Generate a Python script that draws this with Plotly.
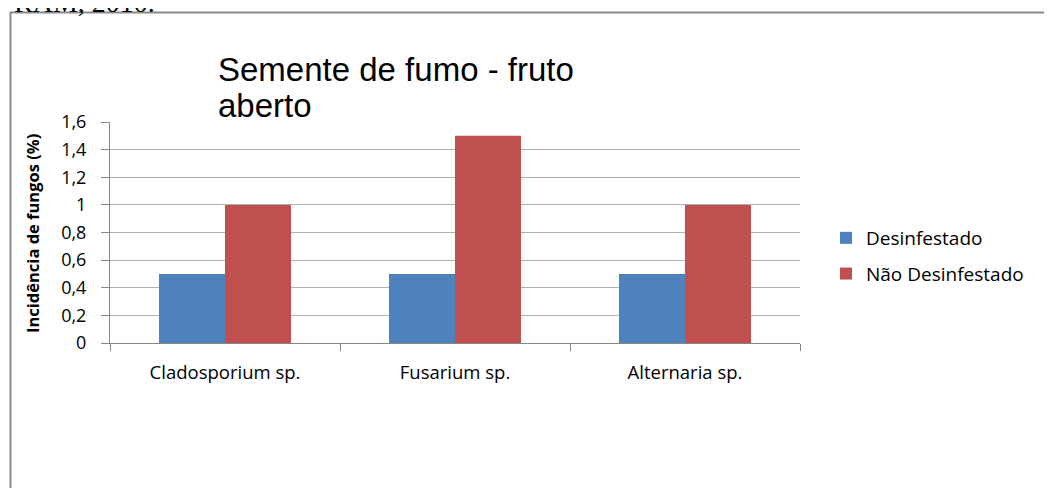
"""Grouped bar chart: fungus incidence on tobacco seed (open fruit)."""

import plotly.graph_objects as go

categories = ["Cladosporium sp.", "Fusarium sp.", "Alternaria sp."]
desinfestado = [0.5, 0.5, 0.5]
nao_desinfestado = [1.0, 1.5, 1.0]
y_ticks = [0, 0.2, 0.4, 0.6, 0.8, 1.0, 1.2, 1.4, 1.6]

_BLUE = "#4F81BD"
_RED = "#C0504D"
_AXIS = "#868686"
_GRID = "#b0b0b0"
_LABEL_FONT = "Open Sans, Lato, sans-serif"
_TITLE_FONT = {"family": "Liberation Sans, Arial, sans-serif", "size": 33, "color": "#000"}

# the page body adds an 8px margin, so the figure is drawn 8px in
OFF = 8
W, H = 1052 - OFF, 488 - OFF
L, R, T, B = 110, 800, 122, 343  # plot area in screen pixels


def px(x):
    return (x - L) / (R - L)


def py(y):
    return (B - y) / (B - T)


fig = go.Figure()
fig.add_trace(go.Bar(
    x=categories, y=desinfestado, name="Desinfestado",
    marker={"color": _BLUE, "line": {"width": 0}}, legendgroup="a",
))
fig.add_trace(go.Bar(
    x=categories, y=nao_desinfestado, name="Não Desinfestado",
    marker={"color": _RED, "line": {"width": 0}}, legendgroup="b",
))

fig.update_layout(
    width=W, height=H,
    paper_bgcolor="white", plot_bgcolor="white",
    margin={"l": L - OFF, "r": W - (R - OFF), "t": T - OFF, "b": H - (B - OFF), "pad": 0},
    separators=",.",
    barmode="group", bargap=0.426, bargroupgap=0,
    font={"family": _LABEL_FONT, "color": "#000000", "size": 18},
    showlegend=True,
    legend={
        "x": px(826), "y": py(219), "xanchor": "left", "yanchor": "top",
        "font": {"size": 19, "family": _LABEL_FONT},
        "traceorder": "grouped", "tracegroupgap": 8,
        "bgcolor": "rgba(0,0,0,0)",
    },
    xaxis={
        "showline": True, "linecolor": _AXIS, "linewidth": 1,
        "ticks": "outside", "tickson": "boundaries", "ticklen": 7,
        "tickcolor": _AXIS, "showgrid": False,
        "ticklabelstandoff": 13,
        "tickfont": {"size": 18.5},
    },
    yaxis={
        "range": [0, 1.6], "tickvals": y_ticks,
        "showline": True, "linecolor": _AXIS, "linewidth": 1,
        "ticks": "outside", "ticklen": 8, "tickcolor": _AXIS,
        "showgrid": True, "gridcolor": _GRID, "gridwidth": 1,
        "zeroline": False, "ticklabelstandoff": 11,
        "tickfont": {"size": 18},
    },
)

# chart title, one annotation per line to keep the tight line spacing
for line, top in (("Semente de fumo - fruto", 49), ("aberto", 85)):
    fig.add_annotation(
        text=line, xref="paper", yref="paper", x=px(216), y=py(top),
        xanchor="left", yanchor="top", align="left", showarrow=False,
        font=_TITLE_FONT,
    )

# y-axis title
fig.add_annotation(
    text="<b>Incidência de fungos (%)</b>",
    xref="paper", yref="paper", x=px(32), y=py(234),
    xanchor="center", yanchor="middle", textangle=-90, showarrow=False,
    font={"family": _LABEL_FONT, "size": 16.5, "color": "#000"},
)

# cut-off text from the surrounding document
fig.add_annotation(
    text="RAM, 2010.",
    xref="paper", yref="paper", x=px(157), y=py(20),
    xanchor="right", yanchor="bottom", showarrow=False,
    font={"family": "Liberation Serif, Times New Roman, serif", "size": 28, "color": "#000"},
)

# outer chart frame (runs past the right and bottom edges)
fig.add_shape(
    type="rect", xref="paper", yref="paper",
    x0=px(10.5), y0=py(520), x1=px(1080), y1=py(12.5),
    line={"color": "#8a8a8a", "width": 2}, fillcolor="rgba(0,0,0,0)", layer="below",
)

fig.write_html("out.html")
